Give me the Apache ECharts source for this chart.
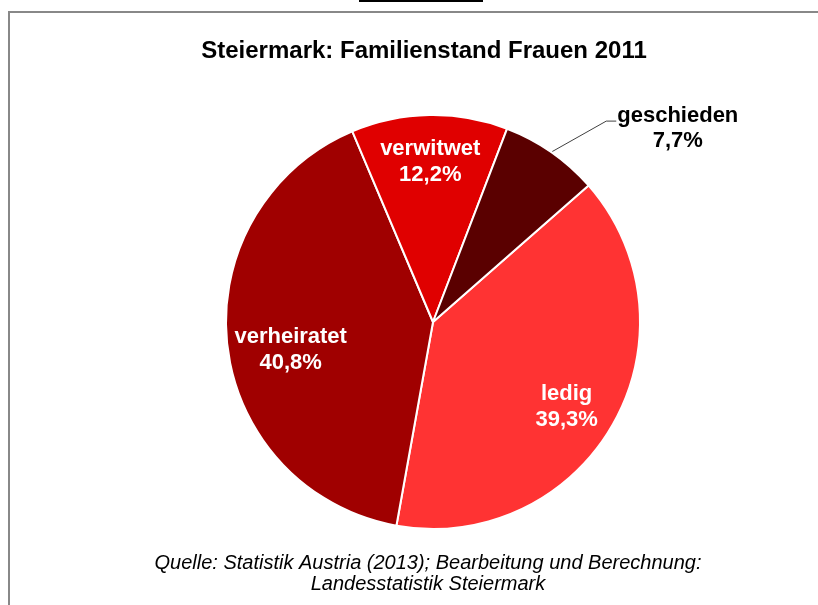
<!DOCTYPE html>
<html>
<head>
<meta charset="utf-8">
<script src="https://cdn.jsdelivr.net/npm/echarts@6/dist/echarts.min.js"></script>
<style>
  html, body { margin: 0; padding: 0; background: #fff; }
  #chart { width: 818px; height: 605px; }
</style>
</head>
<body>
<div id="chart"></div>
<script>
var categories = ["ledig", "verheiratet", "verwitwet", "geschieden"];
var shares = [39.3, 40.8, 12.2, 7.7];
var colors = ["#FF3333", "#A00000", "#E00000", "#5A0000"];

// small nudges for the inside labels (Excel "best fit" placement)
var labelNudge = {
  ledig: [-6, 6],
  verheiratet: [17, 10],
  verwitwet: [0, 0]
};

var fmt = function (v) {
  return v.toFixed(1).replace(".", ",") + "%";
};

var chart = echarts.init(document.getElementById("chart"));

var cx = 433, cy = 322, r = 207;

chart.setOption({
  animation: false,
  title: {
    text: "Steiermark: Familienstand Frauen 2011",
    left: 419,
    top: 34,
    textAlign: "center",
    textStyle: {
      fontFamily: "Liberation Sans",
      fontWeight: "bold",
      fontSize: 24,
      letterSpacing: 1.8,
      color: "#000"
    }
  },
  graphic: [
    {
      type: "rect",
      shape: { x: 9, y: 12, width: 900, height: 700 },
      style: { fill: null, stroke: "#888", lineWidth: 2 },
      silent: true
    },
    {
      type: "rect",
      shape: { x: 359, y: 0, width: 124, height: 2 },
      style: { fill: "#000" },
      silent: true
    },
    {
      type: "text",
      x: 428,
      y: 553,
      style: {
        text: "Quelle: Statistik Austria (2013); Bearbeitung und Berechnung:\nLandesstatistik Steiermark",
        fontFamily: "Liberation Sans",
        fontStyle: "italic",
        fontSize: 20,
        letterSpacing: 0.7,
        lineHeight: 21,
        align: "center",
        verticalAlign: "top",
        fill: "#000"
      }
    }
  ],
  series: [
    {
      type: "pie",
      center: [cx, cy],
      radius: [0, r],
      startAngle: 41.3,
      clockwise: true,
      avoidLabelOverlap: false,
      itemStyle: { borderColor: "#fff", borderWidth: 2 },
      label: { show: false },
      labelLine: { show: false },
      labelLayout: function (p) {
        if (!p.labelLinePoints) return {};
        var a = p.labelLinePoints[0];
        var b = [a[0] + 55, a[1] - 31];
        var c = [b[0] + 10, b[1]];
        return {
          x: c[0] + 1,
          y: c[1] + 7,
          align: "left",
          verticalAlign: "middle",
          labelLinePoints: [a, b, c]
        };
      },
      data: categories.map(function (c, i) {
        var item = { name: c, value: shares[i], itemStyle: { color: colors[i] } };
        if (c === "geschieden") {
          item.label = {
            show: true,
            position: "outside",
            formatter: function (p) {
              return "{a|" + p.name + "}\n{a|" + fmt(p.value) + "}";
            },
            rich: {
              a: {
                align: "center",
                fontFamily: "Liberation Sans",
                fontWeight: "bold",
                fontSize: 22,
                letterSpacing: 0.5,
                lineHeight: 25,
                color: "#000"
              }
            }
          };
          item.labelLine = {
            show: true,
            length: 38,
            length2: 10,
            smooth: false,
            lineStyle: { color: "#404040", width: 1 }
          };
        }
        return item;
      })
    },
    {
      type: "pie",
      center: [cx, cy],
      radius: [r * 0.52, r],
      startAngle: 41.3,
      clockwise: true,
      silent: true,
      avoidLabelOverlap: false,
      itemStyle: { color: "rgba(0,0,0,0)" },
      label: {
        show: true,
        position: "inside",
        formatter: function (p) {
          return p.name + "\n" + fmt(p.value);
        },
        fontFamily: "Liberation Sans",
        fontWeight: "bold",
        fontSize: 22,
        lineHeight: 26,
        color: "#fff"
      },
      labelLine: { show: false },
      labelLayout: function (p) {
        var n = labelNudge[categories[p.dataIndex]];
        return n ? { dx: n[0], dy: n[1] } : {};
      },
      data: categories.map(function (c, i) {
        var item = { name: c, value: shares[i] };
        if (c === "geschieden") item.label = { show: false };
        return item;
      })
    }
  ]
});
</script>
</body>
</html>
